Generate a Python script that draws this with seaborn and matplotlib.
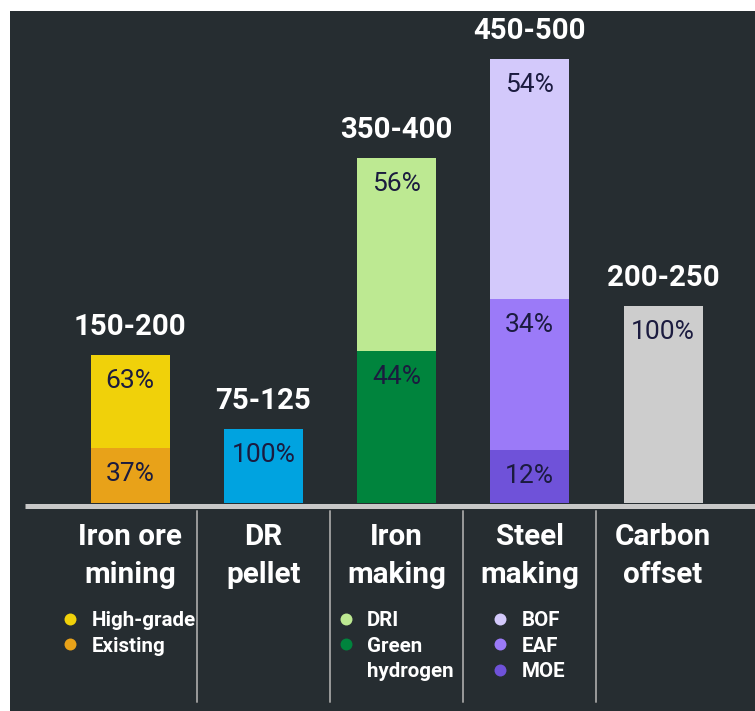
import matplotlib
matplotlib.use("Agg")
import matplotlib.pyplot as plt
from matplotlib.patches import Rectangle
import seaborn as sns
import numpy as np

# ---- data ----
stages = ["Iron ore\nmining", "DR\npellet", "Iron\nmaking", "Steel\nmaking", "Carbon\noffset"]
range_labels = ["150-200", "75-125", "350-400", "450-500", "200-250"]
stage_totals = [150, 75, 350, 450, 200]  # bar height = lower bound of range
# segments listed bottom -> top
segment_names = [
    ["Existing", "High-grade"],
    ["DR pellet"],
    ["Green\nhydrogen", "DRI"],
    ["MOE", "EAF", "BOF"],
    ["Carbon offset"],
]
segment_shares = [
    [37, 63],
    [100],
    [44, 56],
    [12, 34, 54],
    [100],
]
segment_colors = [
    ["#E8A219", "#F0D10A"],
    ["#00A3E0"],
    ["#00843D", "#BDE992"],
    ["#6F52D9", "#9B7AF8", "#D3C9FB"],
    ["#CDCDCD"],
]
# legend entries (top -> bottom as shown)
legend_stages = [0, 2, 3]

# ---- style ----
BG = "#262D31"
PCT_COLOR = "#1B1B3F"
W, H = 755, 711
X0, DX = 130.0, 133.25   # pixel centre of first bar, spacing
Y0, SY = 503.0, 0.987    # pixel baseline, pixels per unit

sns.set_theme(style="white")
plt.rcParams["font.family"] = ["Roboto", "DejaVu Sans"]

fig = plt.figure(figsize=(W / 100, H / 100), dpi=100, facecolor="white")
fig.patches.append(Rectangle((10 / W, 0), (W - 10) / W, (H - 11) / H,
                             transform=fig.transFigure, facecolor=BG,
                             edgecolor="none", zorder=-10))
ax = fig.add_axes([0, 0, 1, 1])
ax.set_facecolor("none")

def px_x(dpx):
    return dpx / DX

def px_y(dpx):
    return dpx / SY

for i, stage in enumerate(stages):
    bottom = 0.0
    for name, share, col in zip(segment_names[i], segment_shares[i], segment_colors[i]):
        h = stage_totals[i] * share / 100.0
        sns.barplot(x=[stage], y=[h], order=stages, bottom=bottom, color=col,
                    width=79 / DX, errorbar=None, saturation=1, linewidth=0,
                    ax=ax, zorder=2)
        top = bottom + h
        ax.text(i, top - px_y(33), f"{share}%", ha="center", va="baseline",
                fontsize=19, color=PCT_COLOR, zorder=3)
        bottom = top
    ax.text(i, stage_totals[i] + px_y(20), range_labels[i], ha="center",
            va="baseline", fontsize=21.2, fontweight="bold", color="white", zorder=3)

ax.set_xlim(-X0 / DX, (W - X0) / DX)
ax.set_ylim((Y0 - H) / SY, Y0 / SY)
ax.axis("off")

# baseline
ax.plot([px_x(25 - X0), px_x(W - X0)], [-px_y(2.5)] * 2, color="#C8C8C8",
        lw=3.6, solid_capstyle="butt", zorder=4)
# dividers
for k in range(len(stages) - 1):
    ax.plot([k + 0.5, k + 0.5], [-px_y(8), -px_y(199)], color="#9A9A9A",
            lw=1.4, zorder=1)

# category labels
for i, stage in enumerate(stages):
    for j, line in enumerate(stage.split("\n")):
        ax.text(i, -px_y(42 + 38 * j), line, ha="center", va="baseline",
                fontsize=21.3, fontweight="bold", color="white", zorder=3)

# legends (centered blocks under each stage)
fig.canvas.draw()
renderer = fig.canvas.get_renderer()
for i in legend_stages:
    names = list(reversed(segment_names[i]))
    cols = list(reversed(segment_colors[i]))
    row = 0
    texts = []
    for name, col in zip(names, cols):
        lines = name.split("\n")
        for j, line in enumerate(lines):
            t = ax.text(0, 0, line, ha="left", va="baseline", fontsize=14.8,
                        fontweight="bold", color="white", zorder=3)
            texts.append((t, row, col if j == 0 else None))
            row += 1
    widths = [t.get_window_extent(renderer).width for t, _, _ in texts]
    block_w = 27 + max(widths)
    left = (i * DX + X0) - block_w / 2  # pixel x of block left edge
    for t, r, col in texts:
        yc = 618.5 + 25.5 * r
        t.set_position((px_x(left + 27 - X0), px_y(Y0 - yc - 7.5)))
        if col is not None:
            ax.plot([px_x(left + 6 - X0)], [px_y(Y0 - yc)], marker="o",
                    ms=8.6, color=col, mec="none", zorder=3)

fig.savefig("out.png", dpi=100, facecolor=fig.get_facecolor())
